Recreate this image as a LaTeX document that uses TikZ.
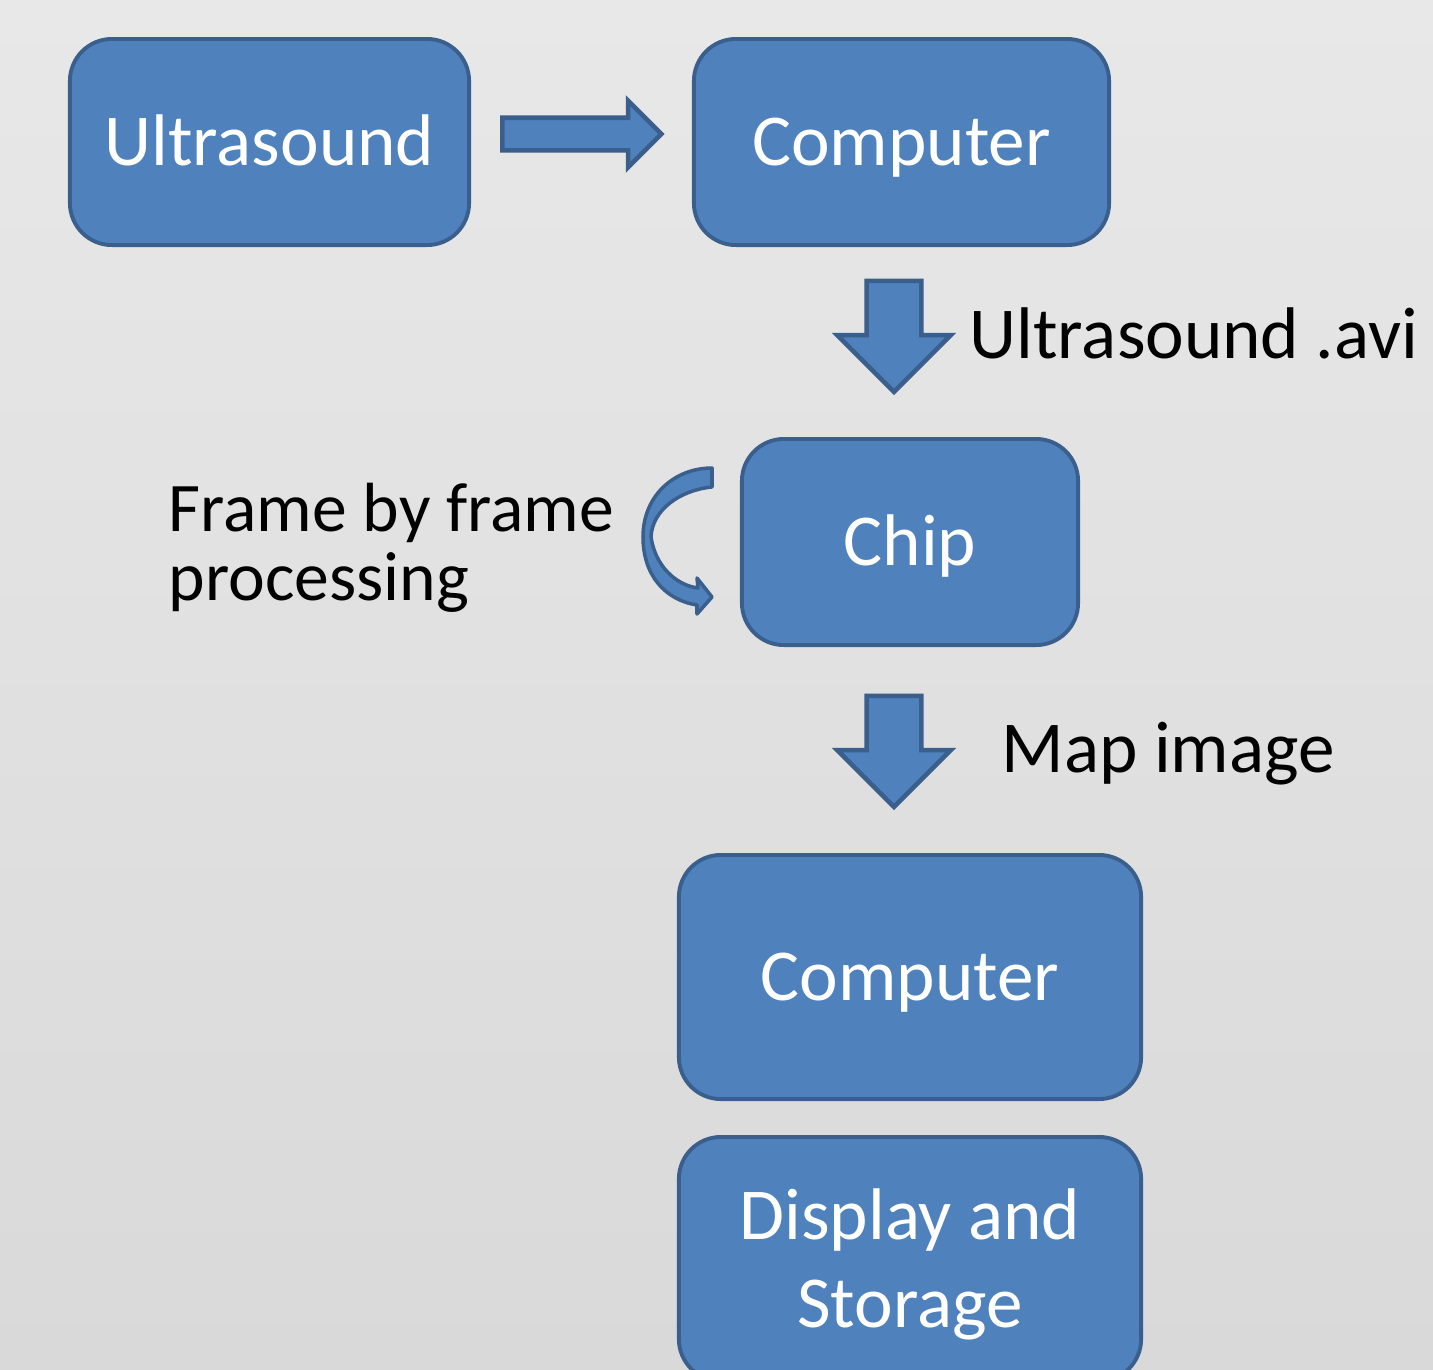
\documentclass[tikz,border=0pt]{standalone}
\usepackage{fontspec}
\setmainfont{Carlito}
\usetikzlibrary{positioning, shapes.arrows}
\definecolor{boxfill}{HTML}{4F81BD}
\definecolor{boxborder}{HTML}{3A5F8C}
\definecolor{bgtop}{HTML}{E8E8E8}
\definecolor{bgbottom}{HTML}{D9D9D9}

\begin{document}
\begin{tikzpicture}[
    x=0.01cm, y=-0.01cm,
    box/.style={draw=boxborder, fill=boxfill, line width=1.1pt, rounded corners=0.42cm,
                text=white, align=center, minimum height=2.06cm,
                text height=0.47cm, text depth=0pt,
                font=\fontsize{20.8pt}{25pt}\selectfont},
    blockarrow/.style={single arrow, draw=boxborder, fill=boxfill, line width=1.3pt,
                       single arrow head indent=0pt, anchor=tail},
    lbl/.style={inner sep=0pt, text=black, align=left,
                font=\fontsize{20.8pt}{19.4pt}\selectfont},
]

% background
\useasboundingbox (0,0) rectangle (1433,1369);
\clip (0,0) rectangle (1433,1369);
\shade[top color=bgtop, bottom color=bgbottom] (0,0) rectangle (1433,1369);

% blocks
\node[box, minimum width=3.99cm] (us) at (269.5,142) {Ultrasound};
\node[box, minimum width=4.15cm] (pc1) at (901.5,142) {Computer};
\node[box, minimum width=3.36cm] (chip) at (910,542) {Chip};
\node[box, minimum width=4.62cm, minimum height=2.44cm] (pc2) at (910,977) {Computer};
\node[box, minimum width=4.62cm, minimum height=2.44cm, text height=1.36cm]
  (disp) at (910,1259) {Display and\\Storage};

% block arrows
\node[blockarrow, minimum height=1.59cm, inner sep=0.14cm,
      single arrow head extend=0.17cm] (a1) at (500,134) {};
\node[blockarrow, rotate=-90, minimum height=1.11cm, inner sep=0.25cm,
      single arrow head extend=0.295cm] (a2) at (894,278.5) {};
\node[blockarrow, rotate=-90, minimum height=1.11cm, inner sep=0.25cm,
      single arrow head extend=0.295cm] (a3) at (894,693.5) {};

% labels
\node[lbl, anchor=base west] (avi) at (969,358) {Ultrasound .avi};
\node[lbl, anchor=base west] (map) at (1001,772) {Map image};
\node[lbl, anchor=base west, font=\fontsize{19.8pt}{19.4pt}\selectfont]
  (fbf) at (168,600) {Frame by frame\\processing};

% loop arrow
\filldraw[fill=boxfill, draw=boxborder, line width=1pt, line join=round]
  (712,468) -- (712,487) .. controls (680,490) and (652,510) .. (651,537)
  .. controls (655,565) and (675,585) .. (698,588) -- (697,578) -- (712,597)
  -- (697,614) -- (697,605) .. controls (665,600) and (643,575) .. (643,537)
  .. controls (643,495) and (675,468) .. (712,468) -- cycle;

\end{tikzpicture}
\end{document}
